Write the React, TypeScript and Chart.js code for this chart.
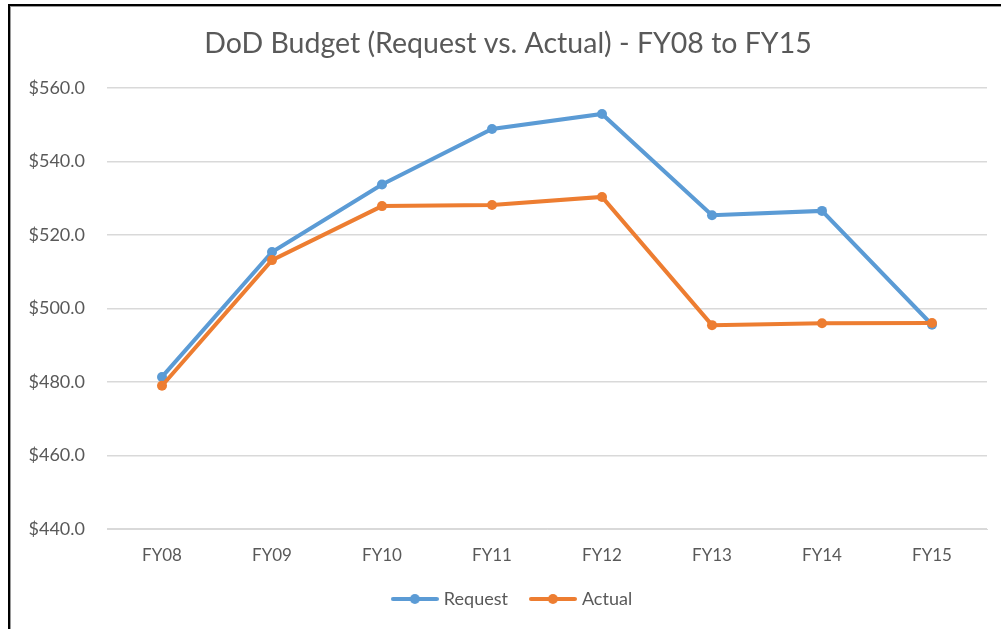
import React, { useEffect, useRef } from "react";
import { Chart, registerables } from "chart.js";

Chart.register(...registerables);

const categories = ["FY08", "FY09", "FY10", "FY11", "FY12", "FY13", "FY14", "FY15"];
const requestValues = [481.4, 515.4, 533.8, 548.9, 553.0, 525.4, 526.6, 495.6];
const actualValues = [479.0, 513.2, 527.9, 528.2, 530.4, 495.5, 496.0, 496.1];
const yTicks = [440, 460, 480, 500, 520, 540, 560];
const titleText = "DoD Budget (Request vs. Actual) - FY08 to FY15";
const seriesNames = ["Request", "Actual"];

const BLUE = "#5B9BD5";
const ORANGE = "#ED7D31";
const TEXT = "#595959";
const GRID = "#D9D9D9";
const FONT = "Lato, 'Open Sans', sans-serif";

function legendIcon(color: string) {
  const c = document.createElement("canvas");
  c.width = 48;
  c.height = 12;
  const ctx = c.getContext("2d")!;
  ctx.strokeStyle = color;
  ctx.lineWidth = 4;
  ctx.lineCap = "round";
  ctx.beginPath();
  ctx.moveTo(2, 6);
  ctx.lineTo(46, 6);
  ctx.stroke();
  ctx.fillStyle = color;
  ctx.beginPath();
  ctx.arc(24, 6, 5, 0, Math.PI * 2);
  ctx.fill();
  return c;
}

const centerBoxes = {
  id: "centerBoxes",
  afterLayout(chart: any) {
    if (chart.legend) {
      chart.legend.left = 40;
      chart.legend.right = 987;
    }
    if (chart.titleBlock) {
      chart.titleBlock.left = 20;
      chart.titleBlock.right = 996;
    }
  },
};

export default function App() {
  const ref = useRef<HTMLCanvasElement>(null);

  useEffect(() => {
    if (!ref.current) return;
    const icons = [legendIcon(BLUE), legendIcon(ORANGE)];
    const chart = new Chart(ref.current, {
      type: "line",
      data: {
        labels: categories,
        datasets: [
          {
            label: seriesNames[0],
            data: requestValues,
            borderColor: BLUE,
            backgroundColor: BLUE,
            borderWidth: 4,
            pointRadius: 5,
            pointBackgroundColor: BLUE,
            pointBorderWidth: 0,
            tension: 0,
            order: 1,
          },
          {
            label: seriesNames[1],
            data: actualValues,
            borderColor: ORANGE,
            backgroundColor: ORANGE,
            borderWidth: 4,
            pointRadius: 5,
            pointBackgroundColor: ORANGE,
            pointBorderWidth: 0,
            tension: 0,
            order: 0,
          },
        ],
      },
      plugins: [centerBoxes],
      options: {
        responsive: false,
        animation: false,
        layout: { padding: { left: 10, right: 14, top: 0, bottom: 11 } },
        plugins: {
          tooltip: { enabled: false },
          title: {
            display: true,
            text: titleText,
            color: TEXT,
            font: { family: FONT, size: 28.5, weight: "normal" },
            padding: { top: 27, bottom: 27 },
          },
          legend: {
            position: "bottom",
            labels: {
              color: TEXT,
              font: { family: FONT, size: 18 },
              usePointStyle: true,
              pointStyleWidth: 40,
              padding: 25,
              sort: (a: any, b: any) => a.datasetIndex - b.datasetIndex,
              generateLabels: (chart: any) => {
                const items = Chart.defaults.plugins.legend.labels.generateLabels(chart);
                items.forEach((it: any) => {
                  it.pointStyle = icons[it.datasetIndex];
                });
                return items;
              },
            },
          },
        },
        scales: {
          x: {
            offset: true,
            grid: { display: false },
            border: { display: true, color: GRID },
            ticks: {
              color: TEXT,
              font: { family: FONT, size: 17 },
              padding: 8,
              maxRotation: 0,
            },
            afterFit: (s: any) => {
              s.height = 36;
            },
          },
          y: {
            min: yTicks[0],
            max: yTicks[yTicks.length - 1],
            grid: { color: GRID, lineWidth: 1.5, drawTicks: false },
            border: { display: false },
            afterBuildTicks: (s: any) => {
              s.ticks = yTicks.map((v) => ({ value: v }));
            },
            ticks: {
              color: TEXT,
              font: { family: FONT, size: 18 },
              padding: 22,
              callback: (v: any) => "$" + Number(v).toFixed(1),
            },
            afterFit: (s: any) => {
              s.width = 97;
            },
          },
        },
      },
    });
    return () => chart.destroy();
  }, []);

  return (
    <div style={{ position: "fixed", left: 0, top: 0, width: 1001, height: 629, background: "#fff", overflow: "hidden" }}>
      <canvas ref={ref} width={1001} height={629} style={{ position: "absolute", left: 0, top: 0 }} />
      <div
        style={{
          position: "absolute",
          left: 8,
          top: 4,
          width: 1100,
          height: 700,
          borderTop: "2px solid #000",
          borderLeft: "2px solid #000",
          boxShadow: "inset 1px 1px 0 #9a9a9a",
          pointerEvents: "none",
        }}
      />
    </div>
  );
}
